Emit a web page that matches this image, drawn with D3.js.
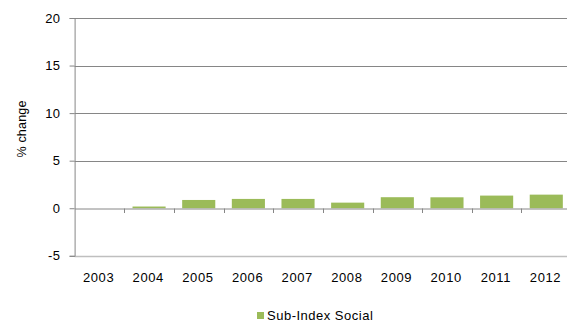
<!DOCTYPE html>
<html>
<head>
<meta charset="utf-8">
<script src="https://cdn.jsdelivr.net/npm/d3@7"></script>
<style>
  html, body { margin: 0; padding: 0; background: #fff; overflow: hidden; }
  svg { display: block; font-family: "Liberation Sans", Arial, sans-serif; }
</style>
</head>
<body>
<svg id="chart" width="567" height="322"></svg>
<script>
// Annual % change of the social sub-index
const years = ["2003", "2004", "2005", "2006", "2007", "2008", "2009", "2010", "2011", "2012"];
const socialValues = [0, 0.18, 0.87, 0.98, 0.98, 0.59, 1.16, 1.15, 1.33, 1.43];
const yTicks = [-5, 0, 5, 10, 15, 20];
const seriesName = "Sub-Index Social";
const yTitle = "% change";

(function () {
  const svg = d3.select("#chart");
  const plotLeft = 74.6, plotRight = 571.1, plotTop = 18, plotBottom = 255.8;
  const barColor = "#9bbb59";
  const gridColor = "#868686";

  const x = d3.scaleBand().domain(years).range([plotLeft, plotRight]).paddingInner(1 / 3).paddingOuter(1 / 6);
  const xCat = d3.scaleBand().domain(years).range([plotLeft, plotRight]);
  const y = d3.scaleLinear().domain([-5, 20]).range([plotBottom, plotTop]);

  // horizontal gridlines
  svg.append("g")
    .selectAll("line")
    .data(yTicks.filter(t => t !== 0 && t !== -5))
    .join("line")
    .attr("x1", plotLeft).attr("x2", plotRight)
    .attr("y1", d => Math.round(y(d)) + 0.5).attr("y2", d => Math.round(y(d)) + 0.5)
    .attr("stroke", gridColor).attr("stroke-width", 1);

  // bottom border of the plot
  svg.append("line")
    .attr("x1", plotLeft).attr("x2", plotRight)
    .attr("y1", Math.round(y(-5)) + 0.5).attr("y2", Math.round(y(-5)) + 0.5)
    .attr("stroke", "#bfbfbf").attr("stroke-width", 1.5);

  // bars
  svg.append("g")
    .selectAll("rect")
    .data(years.map((yr, i) => ({ yr, v: socialValues[i] })))
    .join("rect")
    .attr("x", d => x(d.yr))
    .attr("width", x.bandwidth())
    .attr("y", d => y(Math.max(0, d.v)))
    .attr("height", d => Math.abs(y(d.v) - y(0)))
    .attr("fill", barColor);

  // y axis (plain hyphen for negatives)
  const yAxis = d3.axisLeft(y).tickValues(yTicks).tickSize(5).tickPadding(9).tickFormat(d => String(d));
  const gy = svg.append("g").attr("transform", `translate(${plotLeft},0)`).call(yAxis);
  gy.select(".domain").attr("stroke", gridColor);
  gy.selectAll(".tick line").attr("stroke", gridColor);
  gy.selectAll(".tick text")
    .attr("fill", "#000").style("font-size", "13px").style("letter-spacing", "0.5px");

  // category axis at zero
  const xAxis = d3.axisBottom(xCat).tickSize(0).tickFormat(d => d);
  const gx = svg.append("g").attr("transform", `translate(0,${Math.round(y(0)) + 0.5})`).call(xAxis);
  gx.select(".domain").attr("stroke", gridColor);
  gx.selectAll(".tick text").remove();
  // category separators
  svg.append("g")
    .selectAll("line")
    .data(years.slice(1))
    .join("line")
    .attr("x1", d => Math.round(xCat(d)) + 0.5).attr("x2", d => Math.round(xCat(d)) + 0.5)
    .attr("y1", Math.round(y(0)) + 0.5).attr("y2", Math.round(y(0)) + 5)
    .attr("stroke", gridColor);

  // category labels below the plot
  svg.append("g")
    .selectAll("text")
    .data(years)
    .join("text")
    .attr("x", d => xCat(d) + xCat.bandwidth() / 2 - 0.8)
    .attr("y", 282)
    .attr("text-anchor", "middle")
    .style("font-size", "13px").style("letter-spacing", "0.6px")
    .attr("fill", "#000")
    .text(d => d);

  // axis title
  svg.append("text")
    .attr("transform", "translate(26,129) rotate(-90)")
    .attr("text-anchor", "middle")
    .style("font-size", "12.5px").style("letter-spacing", "0.2px")
    .attr("fill", "#000")
    .text(yTitle);

  // legend
  const legend = svg.append("g").attr("transform", "translate(257,312)");
  legend.append("rect").attr("width", 7).attr("height", 7).attr("fill", barColor);
  legend.append("text")
    .attr("x", 10).attr("y", 8)
    .style("font-size", "13px").style("letter-spacing", "0.5px")
    .attr("fill", "#000")
    .text(seriesName);
})();
</script>
</body>
</html>
